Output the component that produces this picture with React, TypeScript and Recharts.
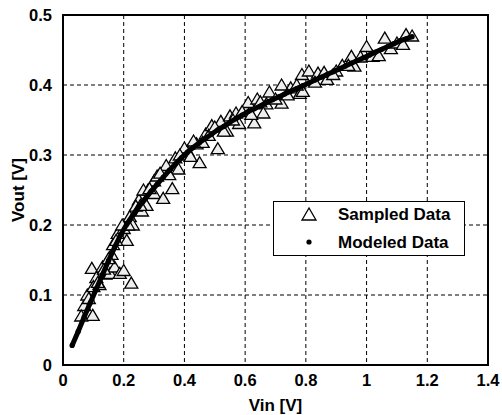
import {
  CartesianGrid,
  ReferenceArea,
  Scatter,
  ScatterChart,
  XAxis,
  YAxis,
} from "recharts";

const xTicks = [0, 0.2, 0.4, 0.6, 0.8, 1, 1.2, 1.4];
const yTicks = [0, 0.1, 0.2, 0.3, 0.4, 0.5];

// modeled curve, read along the black band
const modeledVin = [
  0.03, 0.05, 0.07, 0.09, 0.11, 0.13, 0.15, 0.17, 0.19, 0.21, 0.23, 0.25, 0.27, 0.29,
  0.31, 0.33, 0.35, 0.37, 0.39, 0.41, 0.43, 0.45, 0.47, 0.49, 0.51, 0.53, 0.55, 0.57,
  0.59, 0.61, 0.63, 0.65, 0.67, 0.69, 0.71, 0.73, 0.75, 0.77, 0.79, 0.81, 0.83, 0.85,
  0.87, 0.89, 0.91, 0.93, 0.95, 0.97, 0.99, 1.01, 1.03, 1.05, 1.07, 1.09, 1.11, 1.13, 1.15,
];
const modeledVout = [
  0.028, 0.048, 0.069, 0.089, 0.109, 0.129, 0.149, 0.168, 0.186, 0.201, 0.214, 0.226, 0.237, 0.248,
  0.258, 0.268, 0.278, 0.287, 0.296, 0.304, 0.311, 0.318, 0.324, 0.33, 0.336, 0.341, 0.347, 0.352,
  0.357, 0.362, 0.366, 0.37, 0.375, 0.379, 0.383, 0.387, 0.391, 0.395, 0.399, 0.403, 0.407, 0.411,
  0.415, 0.419, 0.423, 0.427, 0.431, 0.435, 0.439, 0.443, 0.447, 0.451, 0.455, 0.459, 0.463, 0.466, 0.469,
];

// sampled measurements (triangles)
const sampledVin = [
  0.07, 0.098, 0.08, 0.095, 0.11, 0.1, 0.12, 0.13, 0.14, 0.155, 0.16, 0.17, 0.165, 0.187,
  0.2, 0.225, 0.18, 0.2, 0.21, 0.22, 0.23, 0.25, 0.26, 0.275, 0.28, 0.3, 0.3, 0.31,
  0.33, 0.34, 0.36, 0.37, 0.38, 0.41, 0.4, 0.44, 0.45, 0.47, 0.46, 0.51, 0.49, 0.52,
  0.55, 0.54, 0.57, 0.58, 0.6, 0.63, 0.61, 0.64, 0.67, 0.66, 0.68, 0.72, 0.72, 0.75,
  0.78, 0.787, 0.79, 0.81, 0.84, 0.87, 0.9, 0.92, 0.95, 0.96, 1.0, 1.02, 1.06, 1.08,
  1.13, 1.15, 0.06, 0.085, 0.115, 0.135, 0.15, 0.175, 0.195, 0.215, 0.24, 0.255, 0.265,
  0.285, 0.32, 0.35, 0.385, 0.42, 0.43, 0.48, 0.5, 0.53, 0.56, 0.59, 0.62, 0.65, 0.7,
  0.74, 0.77, 0.83, 0.86, 0.89, 0.94, 0.98, 1.04, 1.1, 1.12,
];
const sampledVout = [
  0.085, 0.071, 0.1, 0.138, 0.125, 0.112, 0.115, 0.14, 0.13, 0.131, 0.158, 0.14, 0.172, 0.131,
  0.135, 0.117, 0.188, 0.195, 0.178, 0.212, 0.2, 0.236, 0.22, 0.228, 0.25, 0.263, 0.245, 0.27,
  0.238, 0.285, 0.252, 0.296, 0.28, 0.306, 0.31, 0.316, 0.289, 0.33, 0.318, 0.309, 0.342, 0.348,
  0.356, 0.334, 0.36, 0.345, 0.366, 0.346, 0.375, 0.38, 0.373, 0.36, 0.39, 0.4, 0.374, 0.396,
  0.388, 0.415, 0.391, 0.42, 0.417, 0.408, 0.42, 0.428, 0.441, 0.427, 0.455, 0.441, 0.467, 0.452,
  0.472, 0.47, 0.07, 0.095, 0.118, 0.137, 0.152, 0.178, 0.2, 0.2, 0.227, 0.228, 0.25,
  0.252, 0.274, 0.272, 0.3, 0.298, 0.32, 0.328, 0.34, 0.334, 0.35, 0.362, 0.358, 0.376, 0.38,
  0.386, 0.4, 0.404, 0.418, 0.415, 0.428, 0.44, 0.442, 0.46, 0.458,
];

const modeled = modeledVin.map((x, i) => ({ x, y: modeledVout[i] }));
const sampled = sampledVin.map((x, i) => ({ x, y: sampledVout[i] }));

const font = "'Liberation Sans', Arial, sans-serif";

function Triangle(props: any) {
  const { cx, cy } = props;
  return (
    <polygon
      points={`${cx},${cy - 6} ${cx - 6.5},${cy + 5} ${cx + 6.5},${cy + 5}`}
      fill="#eeeeee"
      stroke="#000"
      strokeWidth={1.3}
    />
  );
}

function Dot(props: any) {
  return <circle cx={props.cx} cy={props.cy} r={2.6} fill="#000" />;
}

function LegendBox() {
  return (
    <svg
      width={192}
      height={55}
      style={{ position: "absolute", left: 273, top: 201 }}
    >
      <rect x={0.5} y={0.5} width={191} height={54} fill="#fff" stroke="#000" />
      <polygon points="36,7 29,19 43,19" fill="#fff" stroke="#000" strokeWidth={1.3} />
      <circle cx={36} cy={41} r={2.6} fill="#000" />
      <text x={65} y={19} fontFamily={font} fontWeight="bold" fontSize={17}>Sampled Data</text>
      <text x={65} y={47} fontFamily={font} fontWeight="bold" fontSize={17}>Modeled Data</text>
    </svg>
  );
}

export default function App() {
  const tick = { fill: "#000", fontSize: 16.5, fontWeight: "bold", fontFamily: font };
  const label = { ...tick, fontSize: 17 };
  return (
    <div style={{ position: "absolute", left: 0, top: 0, width: 502, height: 415, background: "#fff" }}>
      <ScatterChart width={502} height={415} margin={{ top: 15, right: 14, bottom: 0, left: 0 }}>
        <CartesianGrid stroke="#000" strokeDasharray="4 3" strokeWidth={1} />
        <XAxis
          type="number"
          dataKey="x"
          domain={[0, 1.4]}
          ticks={xTicks}
          tickLine={false}
          axisLine={{ stroke: "#000", strokeWidth: 2 }}
          tick={tick}
          tickMargin={3}
          height={50}
          label={{ value: "Vin [V]", position: "insideBottom", offset: 4, style: label }}
        />
        <YAxis
          type="number"
          dataKey="y"
          domain={[0, 0.5]}
          ticks={yTicks}
          tickLine={false}
          axisLine={{ stroke: "#000", strokeWidth: 2 }}
          tick={tick}
          tickMargin={5}
          width={63}
          label={{ value: "Vout [V]", angle: -90, position: "insideLeft", offset: 18, style: { ...label, textAnchor: "middle" } }}
        />
        <ReferenceArea x1={0} x2={1.4} y1={0} y2={0.5} fill="none" stroke="#000" strokeWidth={2} ifOverflow="visible" />
        <Scatter data={sampled} shape={Triangle} isAnimationActive={false} />
        <Scatter
          data={modeled}
          shape={Dot}
          line={{ stroke: "#000", strokeWidth: 5 }}
          isAnimationActive={false}
        />
      </ScatterChart>
      <LegendBox />
    </div>
  );
}
